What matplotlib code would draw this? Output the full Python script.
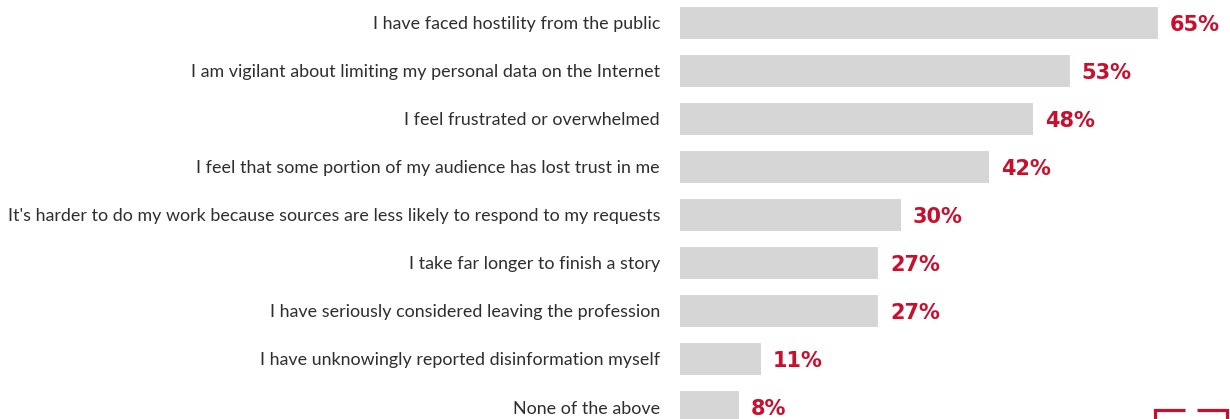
import matplotlib
matplotlib.use("Agg")
import matplotlib.pyplot as plt
from matplotlib.lines import Line2D

categories = [
    "I have faced hostility from the public",
    "I am vigilant about limiting my personal data on the Internet",
    "I feel frustrated or overwhelmed",
    "I feel that some portion of my audience has lost trust in me",
    "It's harder to do my work because sources are less likely to respond to my requests",
    "I take far longer to finish a story",
    "I have seriously considered leaving the profession",
    "I have unknowingly reported disinformation myself",
    "None of the above",
]
values = [65, 53, 48, 42, 30, 27, 27, 11, 8]
value_labels = ["65%", "53%", "48%", "42%", "30%", "27%", "27%", "11%", "8%"]

BAR = "#d6d6d6"
RED = "#c8102e"
TEXT = "#2e2e2e"

W, H = 1230, 419
fig = plt.figure(figsize=(W / 100, H / 100), dpi=100)
fig.patch.set_facecolor("white")

# axes spans from the bar baseline to the right edge of the figure
ax = fig.add_axes([680 / W, 0, 550 / W, 1])
ax.set_xlim(0, 550 / 7.35)
pitch = 48
ax.set_ylim((H - 23) / pitch, -23 / pitch)

ypos = list(range(len(categories)))
ax.barh(ypos, values, height=32 / pitch, color=BAR, edgecolor="none")

ax.set_yticks(ypos)
ax.set_yticklabels(categories, fontsize=12.85, color=TEXT, family=["Lato", "DejaVu Sans"])
ax.tick_params(axis="y", length=0, pad=14.4)
ax.set_xticks([])
for s in ax.spines.values():
    s.set_visible(False)

for y, v, lab in zip(ypos, values, value_labels):
    ax.annotate(lab, xy=(v, y), xytext=(8.6, -1.2), textcoords="offset points",
                ha="left", va="center", color=RED, fontsize=15,
                fontweight="bold", family=["DejaVu Sans"])

# corner brand mark
def fx(px):
    return px / W

def fy(py):
    return 1 - py / H

lw = 2.3
for xs, ys in [
    ([1154.5, 1154.5, 1185], [425, 409.5, 409.5]),
    ([1197, 1226.5, 1226.5], [409.5, 409.5, 425]),
]:
    fig.add_artist(Line2D([fx(x) for x in xs], [fy(y) for y in ys],
                          color=RED, lw=lw, solid_joinstyle="miter",
                          solid_capstyle="butt"))

fig.savefig("out.png", dpi=100, facecolor="white")
